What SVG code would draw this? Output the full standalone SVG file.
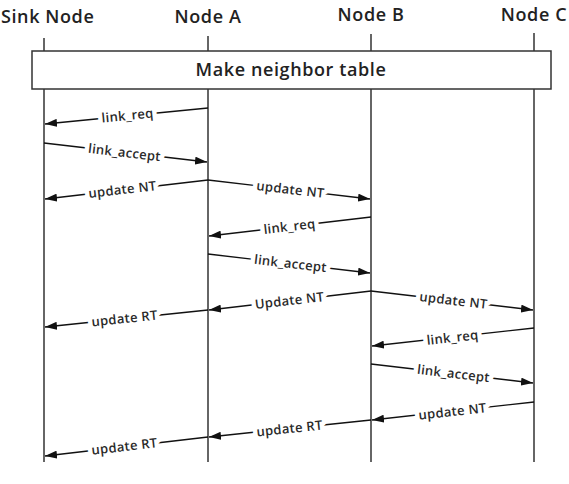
<svg xmlns="http://www.w3.org/2000/svg" width="569" height="484" viewBox="0 0 569 484">
<style>
.hdr{font-family:"Open Sans","Noto Sans",sans-serif;font-size:18px;font-weight:600;fill:#222;text-anchor:middle;letter-spacing:0.6px}
.life{stroke:#333;stroke-width:1.5;fill:none}
.msg{stroke:#111;stroke-width:1.4;fill:none;marker-end:url(#ah)}
.lt{font-family:"Open Sans","Noto Sans",sans-serif;font-size:13px;font-weight:600;text-anchor:middle;letter-spacing:0.3px}
.bg{fill:#fff;stroke:#fff;stroke-width:9;stroke-linejoin:round}
.fg{fill:#2a2a2a;stroke:none}
</style>
<defs>
<marker id="ah" viewBox="0 0 12 8" refX="12" refY="4" markerWidth="12" markerHeight="8" markerUnits="userSpaceOnUse" orient="auto">
<path d="M0,0 L12,4 L0,8 Z" fill="#111"/>
</marker>
<g id="labels" class="lt">
<text transform="translate(128,120) rotate(-5.6)">link_req</text>
<text transform="translate(124,157) rotate(6.7)">link_accept</text>
<text transform="translate(123,194) rotate(-6.7)">update NT</text>
<text transform="translate(290,194) rotate(6.6)">update NT</text>
<text transform="translate(290,231) rotate(-6.6)">link_req</text>
<text transform="translate(290,268) rotate(6.6)">link_accept</text>
<text transform="translate(290,305) rotate(-6.6)">Update NT</text>
<text transform="translate(453,305) rotate(6.7)">update NT</text>
<text transform="translate(125,323) rotate(-6)">update RT</text>
<text transform="translate(453,342) rotate(-6.3)">link_req</text>
<text transform="translate(453,378) rotate(6.7)">link_accept</text>
<text transform="translate(453,416) rotate(-6.3)">update NT</text>
<text transform="translate(290,433) rotate(-6)">update RT</text>
<text transform="translate(125,451) rotate(-6.7)">update RT</text>
</g>
</defs>
<rect width="569" height="484" fill="#fff"/>
<g id="sink"><text class="hdr" x="1" y="23" style="text-anchor:start">Sink Node</text><line class="life" x1="44" y1="38" x2="44" y2="462"/></g>
<g id="nodeA"><text class="hdr" x="208" y="23">Node A</text><line class="life" x1="208" y1="36" x2="208" y2="462"/></g>
<g id="nodeB"><text class="hdr" x="371" y="21">Node B</text><line class="life" x1="371" y1="34" x2="371" y2="462"/></g>
<g id="nodeC"><text class="hdr" x="534" y="21">Node C</text><line class="life" x1="534" y1="33" x2="534" y2="462"/></g>
<g id="table"><rect x="32" y="51" width="519" height="38" fill="#fff" stroke="#333" stroke-width="1.5"/><text class="hdr" x="291" y="76">Make neighbor table</text></g>
<g id="connectors">
<line class="msg" x1="208" y1="108" x2="45" y2="124"/>
<line class="msg" x1="44" y1="143" x2="207" y2="162"/>
<line class="msg" x1="208" y1="180" x2="45" y2="199"/>
<line class="msg" x1="208" y1="180" x2="370" y2="199"/>
<line class="msg" x1="371" y1="217" x2="209" y2="236"/>
<line class="msg" x1="208" y1="254" x2="370" y2="273"/>
<line class="msg" x1="371" y1="291" x2="209" y2="310"/>
<line class="msg" x1="371" y1="291" x2="533" y2="310"/>
<line class="msg" x1="208" y1="310" x2="45" y2="327"/>
<line class="msg" x1="534" y1="328" x2="372" y2="346"/>
<line class="msg" x1="371" y1="364" x2="533" y2="383"/>
<line class="msg" x1="534" y1="402" x2="372" y2="420"/>
<line class="msg" x1="371" y1="420" x2="209" y2="437"/>
<line class="msg" x1="208" y1="437" x2="45" y2="456"/>
<use href="#labels" class="bg"/>
<use href="#labels" class="fg"/>
</g>
</svg>
